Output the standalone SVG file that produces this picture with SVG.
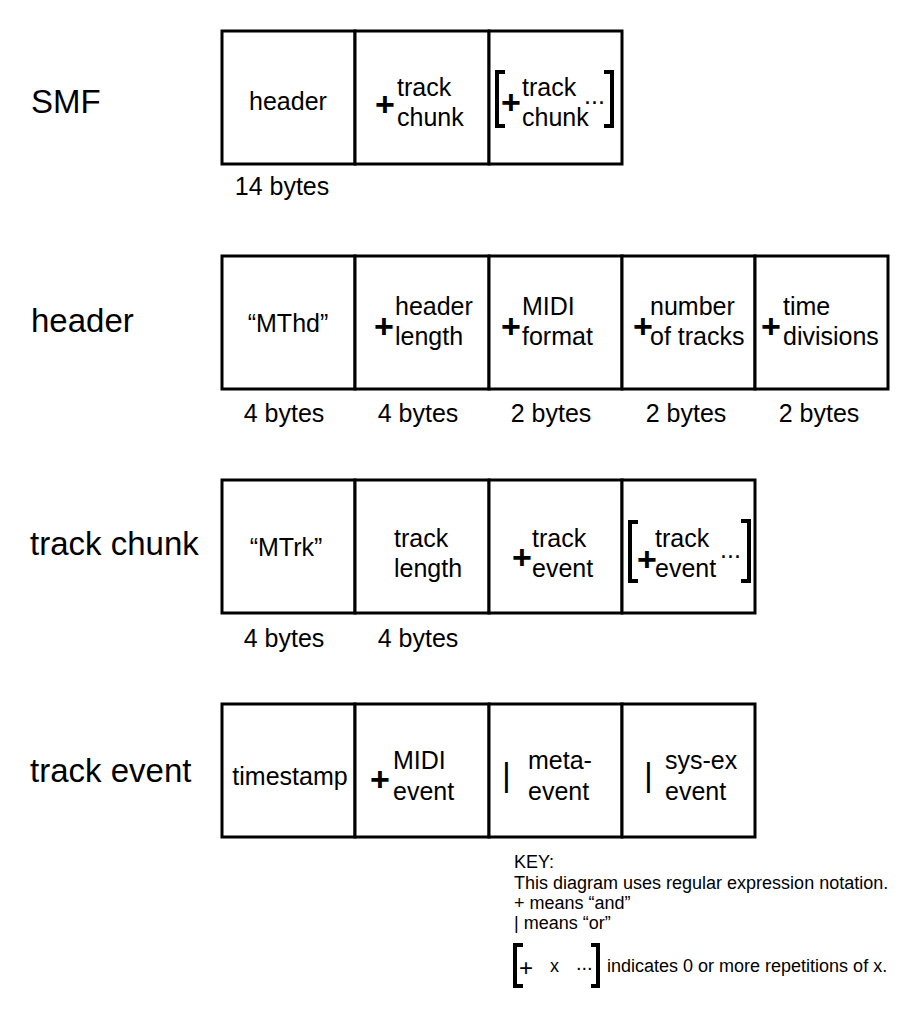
<svg xmlns="http://www.w3.org/2000/svg" width="917" height="1024" viewBox="0 0 917 1024">
<style>
text{font-family:"Liberation Sans",Arial,sans-serif;fill:#000}
.lbl{font-size:33px}
.t{font-size:25px}
.c{text-anchor:middle}
.p{font-size:34px;font-weight:bold}
.bar{font-size:34px}
.k{font-size:18px}
.cell{fill:#fff;stroke:#000;stroke-width:3}
.br{fill:none;stroke:#000;stroke-width:4}
</style>
<rect width="917" height="1024" fill="#fff"/>
<g id="labels">
<text class="lbl" x="31" y="113">SMF</text>
<text class="lbl" x="31" y="332">header</text>
<text class="lbl" x="30" y="555">track chunk</text>
<text class="lbl" x="30" y="782">track event</text>
</g>
<g id="connectors"></g>
<!-- Row 1: SMF -->
<g id="smf-header">
<rect class="cell" x="222" y="31" width="133" height="133"/>
<text class="t c" x="288" y="110">header</text>
<text class="t c" x="282" y="195">14 bytes</text>
</g>
<g id="smf-track">
<rect class="cell" x="355" y="31" width="134" height="133"/>
<text class="p" x="375" y="116">+</text>
<text class="t" x="397" y="96">track</text>
<text class="t" x="397" y="126">chunk</text>
</g>
<g id="smf-more">
<rect class="cell" x="489" y="31" width="133" height="133"/>
<path class="br" d="M505,72H497V126H505"/>
<path class="br" d="M604,72H612V126H604"/>
<text class="p" x="501" y="114">+</text>
<text class="t" x="522" y="96">track</text>
<text class="t" x="522" y="126">chunk</text>
<text class="t" x="584" y="104">...</text>
</g>
<!-- Row 2: header -->
<g id="hdr-mthd">
<rect class="cell" x="222" y="256" width="133" height="133"/>
<text class="t c" x="288" y="332">“MThd”</text>
<text class="t c" x="284" y="422">4 bytes</text>
</g>
<g id="hdr-length">
<rect class="cell" x="355" y="256" width="134" height="133"/>
<text class="p" x="374" y="338">+</text>
<text class="t" x="395" y="315">header</text>
<text class="t" x="395" y="345">length</text>
<text class="t c" x="418" y="422">4 bytes</text>
</g>
<g id="hdr-format">
<rect class="cell" x="489" y="256" width="133" height="133"/>
<text class="p" x="501" y="338">+</text>
<text class="t" x="522" y="315">MIDI</text>
<text class="t" x="522" y="345">format</text>
<text class="t c" x="551" y="422">2 bytes</text>
</g>
<g id="hdr-ntracks">
<rect class="cell" x="622" y="256" width="133" height="133"/>
<text class="p" x="633" y="338">+</text>
<text class="t" x="650" y="315">number</text>
<text class="t" x="650" y="345">of tracks</text>
<text class="t c" x="686" y="422">2 bytes</text>
</g>
<g id="hdr-time">
<rect class="cell" x="755" y="256" width="133" height="133"/>
<text class="p" x="761" y="338">+</text>
<text class="t" x="783" y="315">time</text>
<text class="t" x="783" y="345">divisions</text>
<text class="t c" x="819" y="422">2 bytes</text>
</g>
<!-- Row 3: track chunk -->
<g id="trk-mtrk">
<rect class="cell" x="222" y="480" width="133" height="133"/>
<text class="t c" x="286" y="556">“MTrk”</text>
<text class="t c" x="284" y="647">4 bytes</text>
</g>
<g id="trk-length">
<rect class="cell" x="355" y="480" width="134" height="133"/>
<text class="t" x="394" y="547">track</text>
<text class="t" x="394" y="577">length</text>
<text class="t c" x="418" y="647">4 bytes</text>
</g>
<g id="trk-event">
<rect class="cell" x="489" y="480" width="133" height="133"/>
<text class="p" x="512" y="569">+</text>
<text class="t" x="532" y="547">track</text>
<text class="t" x="532" y="577">event</text>
</g>
<g id="trk-more">
<rect class="cell" x="622" y="480" width="133" height="133"/>
<path class="br" d="M638,522H630V581H638"/>
<path class="br" d="M741,521H749V581H741"/>
<text class="p" x="637" y="571">+</text>
<text class="t" x="655" y="547">track</text>
<text class="t" x="655" y="577">event</text>
<text class="t" x="720" y="558">...</text>
</g>
<!-- Row 4: track event -->
<g id="evt-timestamp">
<rect class="cell" x="222" y="704" width="133" height="133"/>
<text class="t c" x="290" y="785">timestamp</text>
</g>
<g id="evt-midi">
<rect class="cell" x="355" y="704" width="134" height="133"/>
<text class="p" x="370" y="791">+</text>
<text class="t" x="393" y="769">MIDI</text>
<text class="t" x="393" y="800">event</text>
</g>
<g id="evt-meta">
<rect class="cell" x="489" y="704" width="133" height="133"/>
<text class="bar" x="502" y="786">|</text>
<text class="t" x="528" y="769">meta-</text>
<text class="t" x="528" y="800">event</text>
</g>
<g id="evt-sysex">
<rect class="cell" x="622" y="704" width="133" height="133"/>
<text class="bar" x="644" y="786">|</text>
<text class="t" x="665" y="769">sys-ex</text>
<text class="t" x="665" y="800">event</text>
</g>
<!-- Key -->
<g id="key">
<text class="k" x="514" y="868">KEY:</text>
<text class="k" x="514" y="889">This diagram uses regular expression notation.</text>
<text class="k" x="514" y="909">+ means “and”</text>
<text class="k" x="514" y="929">| means “or”</text>
<path class="br" d="M523,945H515V986H523"/>
<path class="br" d="M591,945H598V986H591"/>
<text style="font-size:24px" x="519" y="976">+</text>
<text class="k" x="550" y="972">x</text>
<text style="font-size:20px" x="576" y="970">...</text>
<text class="k" x="607" y="972">indicates 0 or more repetitions of x.</text>
</g>
</svg>
